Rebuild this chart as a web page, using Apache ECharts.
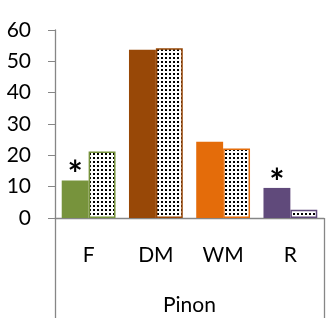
<!DOCTYPE html>
<html>
<head>
<meta charset="utf-8">
<script src="https://cdn.jsdelivr.net/npm/echarts@6/dist/echarts.min.js"></script>
<style>
  html, body { margin: 0; padding: 0; background: #fff; }
  #chart { width: 328px; height: 318px; }
</style>
</head>
<body>
<div id="chart"></div>
<script>
  // categories and values
  var categories = ['F', 'DM', 'WM', 'R'];
  var solidValues = [12, 53.7, 24.3, 9.6];
  var dottedValues = [21.2, 54.2, 22.2, 2.6];
  var barColors = ['#77933C', '#984807', '#E46C0A', '#604A7B'];
  var starred = [true, false, false, true];
  var groupLabel = ['Pinon'];
  var yTicks = [0, 10, 20, 30, 40, 50, 60];

  // little dotted fill, like the excel pattern
  var dot = document.createElement('canvas');
  dot.width = 4;
  dot.height = 4;
  var ctx = dot.getContext('2d');
  ctx.fillStyle = '#fff';
  ctx.fillRect(0, 0, 4, 4);
  ctx.fillStyle = '#000';
  ctx.fillRect(1, 1, 2, 2);

  var solidData = [];
  var dottedData = [];
  for (let i = 0; i < categories.length; i++) {
    solidData.push({
      value: solidValues[i],
      itemStyle: { color: barColors[i] },
      label: { show: starred[i] }
    });
    dottedData.push({
      value: dottedValues[i],
      itemStyle: {
        color: { image: dot, repeat: 'repeat' },
        borderColor: barColors[i],
        borderWidth: 1.5
      }
    });
  }

  var font = 'Lato, "Open Sans", sans-serif';
  var myChart = echarts.init(document.getElementById('chart'));
  myChart.setOption({
    animation: false,
    grid: { left: 55, right: 4, top: 30, bottom: 100 },
    xAxis: [
      {
        type: 'category',
        data: categories,
        axisLine: { lineStyle: { color: '#868686', width: 1.3 } },
        axisTick: { show: false },
        axisLabel: { color: '#000', fontSize: 21, fontFamily: font, margin: 27 }
      },
      {
        type: 'category',
        data: groupLabel,
        position: 'bottom',
        axisLine: { show: false },
        axisTick: { show: true, length: 100, lineStyle: { color: '#868686', width: 1.3 } },
        axisLabel: { color: '#000', fontSize: 21, fontFamily: font, margin: 77 }
      }
    ],
    yAxis: {
      type: 'value',
      min: yTicks[0],
      max: yTicks[yTicks.length - 1],
      interval: 10,
      splitLine: { show: false },
      axisLine: { show: true, lineStyle: { color: '#868686', width: 1.3 } },
      axisTick: { show: true, length: 7, lineStyle: { color: '#868686' } },
      axisLabel: { color: '#000', fontSize: 21, fontFamily: font, margin: 24 }
    },
    series: [
      {
        type: 'bar',
        data: solidData,
        barGap: '0%',
        barCategoryGap: '20%',
        label: {
          show: false,
          position: 'top',
          distance: -13,
          formatter: '*',
          color: '#000',
          fontSize: 36,
          fontWeight: 'bold',
          fontFamily: font
        }
      },
      {
        type: 'bar',
        data: dottedData
      }
    ]
  });
</script>
</body>
</html>
